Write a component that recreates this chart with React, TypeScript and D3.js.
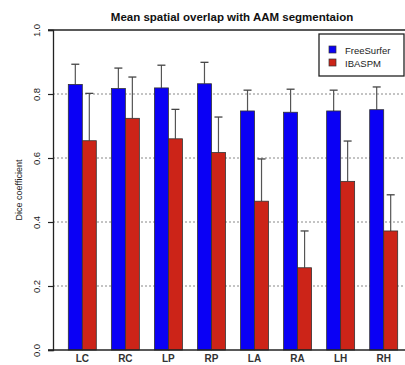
import React, { useEffect, useRef } from "react";
import * as d3 from "d3";

const regions = ["LC", "RC", "LP", "RP", "LA", "RA", "LH", "RH"];
const seriesNames = ["FreeSurfer", "IBASPM"];
const freeSurferMean = [0.83, 0.817, 0.819, 0.832, 0.747, 0.743, 0.747, 0.751];
const freeSurferUpper = [0.893, 0.881, 0.89, 0.899, 0.812, 0.815, 0.812, 0.822];
const ibaspmMean = [0.654, 0.724, 0.66, 0.617, 0.465, 0.257, 0.527, 0.372];
const ibaspmUpper = [0.802, 0.853, 0.752, 0.728, 0.597, 0.372, 0.653, 0.485];
const yTicks = [0, 0.2, 0.4, 0.6, 0.8, 1.0];
const colors = ["#0a00f5", "#cc2418"];

export default function App() {
  const ref = useRef<SVGSVGElement>(null);

  useEffect(() => {
    const svg = d3.select(ref.current);
    svg.selectAll("*").remove();

    const W = 405;
    const H = 365;
    const left = 53;
    const right = 405;

    const y = d3.scaleLinear().domain([0, 1]).range([350, 30]);
    const x = d3.scaleBand().domain(regions).range([61, 405]).paddingInner(0.35).paddingOuter(0.17);
    const inner = d3.scaleBand().domain(seriesNames).range([0, x.bandwidth()]);

    svg.attr("width", W).attr("height", H).style("font-family", "Liberation Sans, Arial, sans-serif");

    // grid
    svg
      .append("g")
      .selectAll("line")
      .data(yTicks.filter((t) => t > 0 && t < 1))
      .enter()
      .append("line")
      .attr("x1", left)
      .attr("x2", right)
      .attr("y1", (d) => y(d))
      .attr("y2", (d) => y(d))
      .attr("stroke", "#888")
      .attr("stroke-width", 1)
      .attr("stroke-dasharray", "2,2");

    const series = [
      { name: seriesNames[0], mean: freeSurferMean, upper: freeSurferUpper, color: colors[0] },
      { name: seriesNames[1], mean: ibaspmMean, upper: ibaspmUpper, color: colors[1] },
    ];

    series.forEach((s) => {
      const g = svg.append("g");
      // error bars
      g.selectAll(".err")
        .data(regions)
        .enter()
        .append("line")
        .attr("x1", (d) => x(d)! + inner(s.name)! + inner.bandwidth() / 2)
        .attr("x2", (d) => x(d)! + inner(s.name)! + inner.bandwidth() / 2)
        .attr("y1", (d, i) => y(s.mean[i]))
        .attr("y2", (d, i) => y(s.upper[i]))
        .attr("stroke", "#555")
        .attr("stroke-width", 1.2);
      g.selectAll(".cap")
        .data(regions)
        .enter()
        .append("line")
        .attr("x1", (d) => x(d)! + inner(s.name)! + inner.bandwidth() / 2 - 4)
        .attr("x2", (d) => x(d)! + inner(s.name)! + inner.bandwidth() / 2 + 4)
        .attr("y1", (d, i) => y(s.upper[i]))
        .attr("y2", (d, i) => y(s.upper[i]))
        .attr("stroke", "#444")
        .attr("stroke-width", 1.3);
    });

    series.forEach((s) => {
      svg
        .append("g")
        .selectAll("rect")
        .data(regions)
        .enter()
        .append("rect")
        .attr("x", (d) => x(d)! + inner(s.name)!)
        .attr("y", (d, i) => y(s.mean[i]))
        .attr("width", inner.bandwidth())
        .attr("height", (d, i) => y(0) - y(s.mean[i]))
        .attr("fill", s.color)
        .attr("stroke", "#333")
        .attr("stroke-width", 0.8);
    });

    // top and bottom solid lines
    svg.append("line").attr("x1", 48).attr("x2", right).attr("y1", y(0)).attr("y2", y(0)).attr("stroke", "#222").attr("stroke-width", 1.3);
    svg.append("line").attr("x1", 48).attr("x2", right).attr("y1", y(1)).attr("y2", y(1)).attr("stroke", "#222").attr("stroke-width", 1.3);

    // y axis
    const yAxis = svg
      .append("g")
      .attr("transform", `translate(${left},0)`)
      .call(d3.axisLeft(y).tickValues(yTicks).tickFormat(d3.format(".1f")).tickSize(5));
    yAxis.select(".domain").attr("stroke", "#222").attr("stroke-width", 1.3);
    yAxis.selectAll(".tick line").attr("stroke", "#222").attr("stroke-width", 1.2);
    yAxis
      .selectAll(".tick text")
      .attr("transform", "rotate(-90)")
      .attr("x", 0)
      .attr("y", -13)
      .attr("dy", 0)
      .style("text-anchor", "middle")
      .style("font-size", "9.5px")
      .style("font-family", "Liberation Sans, Arial, sans-serif")
      .attr("fill", "#222");

    // x labels
    svg
      .append("g")
      .selectAll("text")
      .data(regions)
      .enter()
      .append("text")
      .attr("x", (d) => x(d)! + x.bandwidth() / 2)
      .attr("y", 362)
      .attr("text-anchor", "middle")
      .style("font-size", "10px")
      .style("font-weight", "bold")
      .attr("fill", "#333")
      .text((d) => d);

    // y title
    svg
      .append("text")
      .attr("transform", `translate(22,190) rotate(-90)`)
      .attr("text-anchor", "middle")
      .style("font-size", "9px")
      .attr("fill", "#222")
      .text("Dice coefficient");

    // title
    svg
      .append("text")
      .attr("x", 232)
      .attr("y", 21)
      .attr("text-anchor", "middle")
      .style("font-size", "11.5px")
      .style("font-weight", "bold")
      .attr("fill", "#111")
      .text("Mean spatial overlap with AAM segmentaion");

    // legend
    const lg = svg.append("g").attr("transform", "translate(319,34)");
    lg.append("rect").attr("width", 85).attr("height", 42).attr("fill", "white").attr("stroke", "#222").attr("stroke-width", 1.3);
    series.forEach((s, i) => {
      lg.append("rect")
        .attr("x", 10)
        .attr("y", 12 + i * 13)
        .attr("width", 7)
        .attr("height", 7)
        .attr("fill", s.color)
        .attr("stroke", "#333")
        .attr("stroke-width", 0.7);
      lg.append("text")
        .attr("x", 26)
        .attr("y", 19.5 + i * 13)
        .style("font-size", "9.5px")
        .attr("fill", "#222")
        .text(s.name);
    });
  }, []);

  return (
    <div style={{ position: "absolute", left: 0, top: 0, background: "white" }}>
      <svg ref={ref}></svg>
    </div>
  );
}
